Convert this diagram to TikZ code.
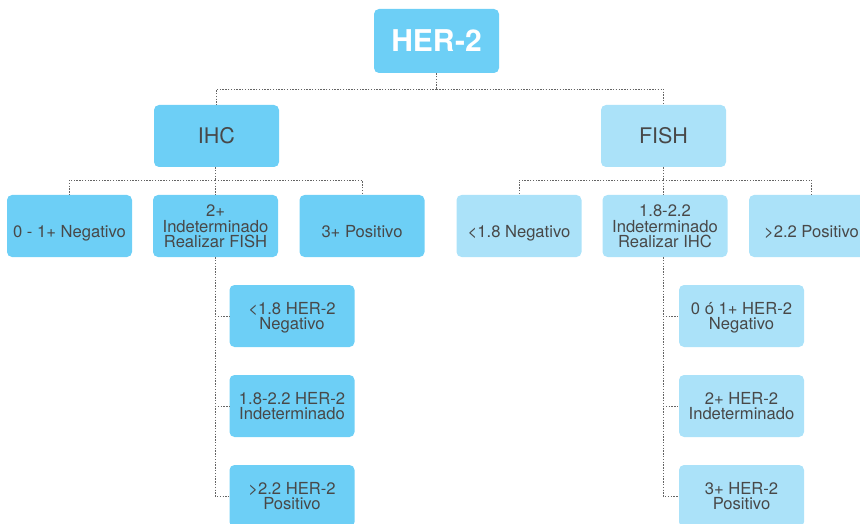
\documentclass[tikz,border=0pt]{standalone}
\usepackage{fontspec}
\setmainfont{TeX Gyre Heros}
\definecolor{boxA}{RGB}{109,207,246}
\definecolor{boxB}{RGB}{171,226,249}
\definecolor{txt}{RGB}{72,72,72}
\definecolor{conncol}{RGB}{100,100,100}
\tikzset{
  box/.style={rounded corners=5pt, minimum width=125pt, minimum height=62pt, inner sep=0pt, align=center, text=txt, font=\fontsize{16.6}{15.7}\selectfont},
  ca/.style={box, fill=boxA},
  cb/.style={box, fill=boxB},
  big/.style={font=\fontsize{21.5}{24}\selectfont},
  one/.style={text height=22pt, text depth=0pt},
  multitwo/.style={text height=27.7pt, text depth=0pt},
  multithree/.style={text height=43.4pt, text depth=0pt},
  conn/.style={draw=conncol, line width=0.8pt, dash pattern=on 1.4pt off 1.4pt}
}
\begin{document}
\begin{tikzpicture}[x=1pt,y=-1pt]
\useasboundingbox (0,0) rectangle (860,524);
\clip (0,0) rectangle (860,524);
% top
\node[ca, minimum height=64pt, text=white, font=\fontsize{30}{32}\selectfont\bfseries] (her) at (436.5,41) {HER-2};
\node[ca, big] (ihc) at (216.5,136) {IHC};
\node[cb, big] (fish) at (663.5,136) {FISH};
% row 3 left
\node[ca, one] (l1) at (69.5,226) {0 - 1+ Negativo};
\node[ca, multithree] (l2) at (215.5,226) {2+\\Indeterminado\\Realizar FISH};
\node[ca, one] (l3) at (362,226) {3+ Positivo};
% row 3 right
\node[cb, one] (r1) at (519,226) {<1.8 Negativo};
\node[cb, multithree] (r2) at (665,226) {1.8-2.2\\Indeterminado\\Realizar IHC};
\node[cb, one] (r3) at (811.5,226) {>2.2 Positivo};
% sub left
\node[ca, multitwo] (ls1) at (292,316) {<1.8 HER-2\\Negativo};
\node[ca, multitwo] (ls2) at (292,406) {1.8-2.2 HER-2\\Indeterminado};
\node[ca, multitwo] (ls3) at (292,496) {>2.2 HER-2\\Positivo};
% sub right
\node[cb, multitwo] (rs1) at (741.5,316) {0 ó 1+ HER-2\\Negativo};
\node[cb, multitwo] (rs2) at (741.5,406) {2+ HER-2\\Indeterminado};
\node[cb, multitwo] (rs3) at (741.5,496) {3+ HER-2\\Positivo};
% connectors top
\coordinate (hj) at (436.5,89);
\draw[conn] (her.south) -- (hj);
\draw[conn] (hj) -| (ihc.north);
\draw[conn] (hj) -| (fish.north);
% IHC children
\coordinate (ij) at (215,180);
\draw[conn] (ihc.south -| ij) -- (ij);
\draw[conn] (ij) -| (l1.north);
\draw[conn] (ij) -| (l3.north);
\draw[conn] (ij) -- (l2.north -| ij);
% FISH children
\coordinate (fj) at (663,180);
\draw[conn] (fish.south -| fj) -- (fj);
\draw[conn] (fj) -| (r1.north);
\draw[conn] (fj) -| (r3.north);
\draw[conn] (fj) -- (r2.north -| fj);
% sub left
\draw[conn] (l2.south -| ij) |- (ls3.west);
\draw[conn] (ls1.west -| ij) -- (ls1.west);
\draw[conn] (ls2.west -| ij) -- (ls2.west);
% sub right
\draw[conn] (r2.south -| fj) |- (rs3.west);
\draw[conn] (rs1.west -| fj) -- (rs1.west);
\draw[conn] (rs2.west -| fj) -- (rs2.west);
\end{tikzpicture}
\end{document}
